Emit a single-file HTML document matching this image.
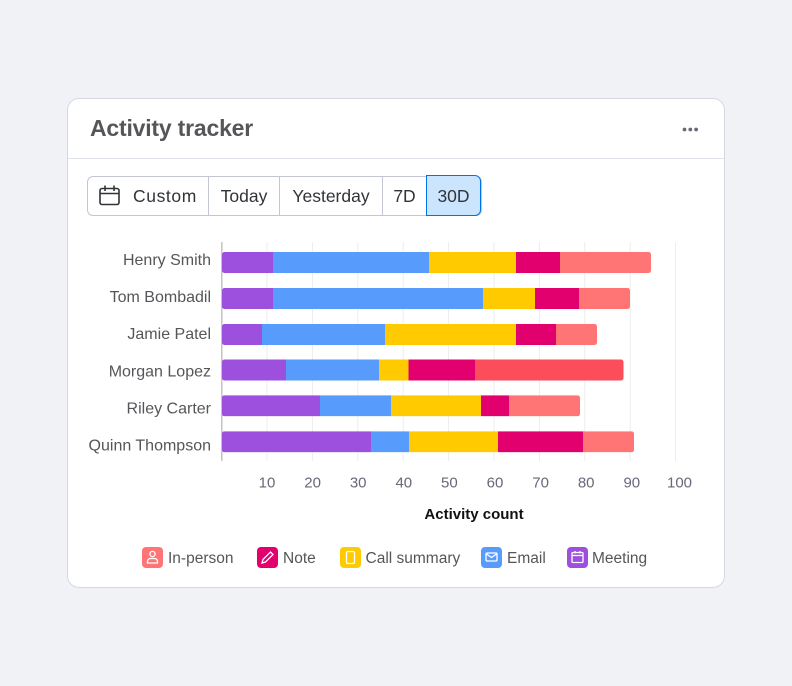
<!DOCTYPE html>
<html><head><meta charset="utf-8"><style>
html,body{margin:0;padding:0;}
body{width:792px;height:686px;background:#f1f2f5;position:relative;overflow:hidden;font-family:"Liberation Sans",sans-serif;}
.card{position:absolute;left:67px;top:98px;width:656px;height:488px;background:#fff;border:1px solid #d5d8e2;border-radius:12px;}
.title{position:absolute;left:90px;top:115px;font-size:23px;font-weight:bold;color:#555659;letter-spacing:-0.2px;}
.divider{position:absolute;left:68px;top:158px;width:656px;height:1px;background:#e0e3ea;}
.grp{position:absolute;left:87px;top:176px;width:393px;height:38px;border:1px solid #c3c6d4;border-radius:6px;}
.btn{position:absolute;top:176px;height:40px;line-height:40px;font-size:17.5px;color:#323338;text-align:center;}
.sep{position:absolute;top:177px;width:1px;height:38px;background:#c3c6d4;}
.sel{position:absolute;left:426px;top:175px;width:53px;height:39px;background:#cce5ff;border:1px solid #0073ea;border-radius:0 6px 6px 0;}
svg{position:absolute;left:0;top:0;}
.lab{font-family:"Liberation Sans",sans-serif;}
</style></head><body>
<div class="card"></div>
<div class="title">Activity tracker</div>
<div class="divider"></div>
<div class="grp"></div>
<div class="sel"></div>
<div class="sep" style="left:208px"></div>
<div class="sep" style="left:279px"></div>
<div class="sep" style="left:382px"></div>
<div class="btn" style="left:133px;width:70px;text-align:left;letter-spacing:0.6px">Custom</div>
<div class="btn" style="left:209px;width:70px">Today</div>
<div class="btn" style="left:280px;width:102px">Yesterday</div>
<div class="btn" style="left:383px;width:43px">7D</div>
<div class="btn" style="left:427px;width:53px">30D</div>
<svg width="792" height="686" viewBox="0 0 792 686">
  <!-- calendar icon -->
  <g fill="none" stroke="#323338" stroke-width="1.6">
    <rect x="100" y="188.5" width="19" height="16" rx="2"/>
    <line x1="100" y1="193.5" x2="119" y2="193.5"/>
    <line x1="105" y1="185.5" x2="105" y2="191"/>
    <line x1="114" y1="185.5" x2="114" y2="191"/>
  </g>
  <!-- dots -->
  <g fill="#676879"><circle cx="684.5" cy="129.5" r="1.9"/><circle cx="690.3" cy="129.5" r="1.9"/><circle cx="696.1" cy="129.5" r="1.9"/></g>
  <!-- grid -->
  <g stroke="#ededed" stroke-width="1">
    <line x1="266.9" y1="242" x2="266.9" y2="461"/>
    <line x1="312.4" y1="242" x2="312.4" y2="461"/>
    <line x1="357.8" y1="242" x2="357.8" y2="461"/>
    <line x1="403.2" y1="242" x2="403.2" y2="461"/>
    <line x1="448.6" y1="242" x2="448.6" y2="461"/>
    <line x1="494" y1="242" x2="494" y2="461"/>
    <line x1="539.4" y1="242" x2="539.4" y2="461"/>
    <line x1="584.8" y1="242" x2="584.8" y2="461"/>
    <line x1="630.2" y1="242" x2="630.2" y2="461"/>
    <line x1="675.6" y1="242" x2="675.6" y2="461"/>
  </g>
  <line x1="221.8" y1="242" x2="221.8" y2="461" stroke="#c4c4c4" stroke-width="1.5"/>
  <!-- bars -->
  <defs>
    <clipPath id="c1"><rect x="222" y="252" width="429" height="21" rx="2.5"/></clipPath>
    <clipPath id="c2"><rect x="222" y="288" width="408" height="21" rx="2.5"/></clipPath>
    <clipPath id="c3"><rect x="222" y="324" width="375" height="21" rx="2.5"/></clipPath>
    <clipPath id="c4"><rect x="222" y="359.5" width="401.5" height="21" rx="2.5"/></clipPath>
    <clipPath id="c5"><rect x="222" y="395.3" width="358" height="21" rx="2.5"/></clipPath>
    <clipPath id="c6"><rect x="222" y="431.3" width="412" height="21" rx="2.5"/></clipPath>
  </defs>
  <g clip-path="url(#c1)">
    <rect x="222" y="252" width="51" height="21" fill="#9d50dd"/>
    <rect x="273" y="252" width="156" height="21" fill="#579bfc"/>
    <rect x="429" y="252" width="87" height="21" fill="#ffcb00"/>
    <rect x="516" y="252" width="44" height="21" fill="#e2006f"/>
    <rect x="560" y="252" width="91" height="21" fill="#ff7575"/>
  </g>
  <g clip-path="url(#c2)">
    <rect x="222" y="288" width="51" height="21" fill="#9d50dd"/>
    <rect x="273" y="288" width="210" height="21" fill="#579bfc"/>
    <rect x="483" y="288" width="52" height="21" fill="#ffcb00"/>
    <rect x="535" y="288" width="44" height="21" fill="#e2006f"/>
    <rect x="579" y="288" width="51" height="21" fill="#ff7575"/>
  </g>
  <g clip-path="url(#c3)">
    <rect x="222" y="324" width="40" height="21" fill="#9d50dd"/>
    <rect x="262" y="324" width="123" height="21" fill="#579bfc"/>
    <rect x="385" y="324" width="131" height="21" fill="#ffcb00"/>
    <rect x="516" y="324" width="40" height="21" fill="#e2006f"/>
    <rect x="556" y="324" width="41" height="21" fill="#ff7575"/>
  </g>
  <g clip-path="url(#c4)">
    <rect x="222" y="359.5" width="64" height="21" fill="#9d50dd"/>
    <rect x="286" y="359.5" width="93" height="21" fill="#579bfc"/>
    <rect x="379" y="359.5" width="29.5" height="21" fill="#ffcb00"/>
    <rect x="408.5" y="359.5" width="66.5" height="21" fill="#e2006f"/>
    <rect x="475" y="359.5" width="148.5" height="21" fill="#fb4e5a"/>
  </g>
  <g clip-path="url(#c5)">
    <rect x="222" y="395.3" width="98" height="21" fill="#9d50dd"/>
    <rect x="320" y="395.3" width="71" height="21" fill="#579bfc"/>
    <rect x="391" y="395.3" width="90" height="21" fill="#ffcb00"/>
    <rect x="481" y="395.3" width="28" height="21" fill="#e2006f"/>
    <rect x="509" y="395.3" width="71" height="21" fill="#ff7575"/>
  </g>
  <g clip-path="url(#c6)">
    <rect x="222" y="431.3" width="149" height="21" fill="#9d50dd"/>
    <rect x="371" y="431.3" width="38" height="21" fill="#579bfc"/>
    <rect x="409" y="431.3" width="89" height="21" fill="#ffcb00"/>
    <rect x="498" y="431.3" width="85" height="21" fill="#e2006f"/>
    <rect x="583" y="431.3" width="51" height="21" fill="#ff7575"/>
  </g>
  <!-- y labels -->
  <g class="lab" font-size="16" fill="#555659" text-anchor="end">
    <text x="211" y="265">Henry Smith</text>
    <text x="211" y="302.1">Tom Bombadil</text>
    <text x="211" y="339.2">Jamie Patel</text>
    <text x="211" y="376.3">Morgan Lopez</text>
    <text x="211" y="413.4">Riley Carter</text>
    <text x="211" y="450.5">Quinn Thompson</text>
  </g>
  <!-- x ticks -->
  <g class="lab" font-size="15" fill="#676879" text-anchor="middle">
    <text x="267" y="487.5">10</text>
    <text x="312.6" y="487.5">20</text>
    <text x="358.2" y="487.5">30</text>
    <text x="403.8" y="487.5">40</text>
    <text x="449.4" y="487.5">50</text>
    <text x="495" y="487.5">60</text>
    <text x="540.6" y="487.5">70</text>
    <text x="586.2" y="487.5">80</text>
    <text x="631.8" y="487.5">90</text>
    <text x="679.5" y="487.5">100</text>
  </g>
  <text class="lab" x="474" y="519" font-size="15" font-weight="bold" fill="#111" text-anchor="middle">Activity count</text>
  <!-- legend -->
  <g>
    <rect x="142" y="547" width="21" height="21" rx="4" fill="#ff7575"/>
    <g fill="none" stroke="#fff" stroke-width="1.3"><circle cx="152.5" cy="554" r="2.6"/><path d="M147.5 563 v-1.5 a3 3 0 0 1 3 -3 h4 a3 3 0 0 1 3 3 v1.5 z"/></g>
    <rect x="257" y="547" width="21" height="21" rx="4" fill="#e2006f"/>
    <g fill="none" stroke="#fff" stroke-width="1.3"><path d="M262 563 l1 -3.5 l7.5 -7.5 l2.5 2.5 l-7.5 7.5 z"/></g>
    <rect x="340" y="547" width="21" height="21" rx="4" fill="#ffcb00"/>
    <g fill="none" stroke="#fff" stroke-width="1.3"><rect x="346.5" y="551.5" width="8" height="12" rx="1.5"/></g>
    <rect x="481" y="547" width="21" height="21" rx="4" fill="#579bfc"/>
    <g fill="none" stroke="#fff" stroke-width="1.3"><rect x="486" y="553" width="11" height="8" rx="1"/><path d="M486.5 554 l5 3.5 l5 -3.5"/></g>
    <rect x="567" y="547" width="21" height="21" rx="4" fill="#9d50dd"/>
    <g fill="none" stroke="#fff" stroke-width="1.3"><rect x="572" y="552.5" width="11" height="10" rx="1"/><line x1="572" y1="555.5" x2="583" y2="555.5"/><line x1="575" y1="551" x2="575" y2="553.5"/><line x1="580" y1="551" x2="580" y2="553.5"/></g>
  </g>
  <g class="lab" font-size="15.5" fill="#555659">
    <text x="168" y="563">In-person</text>
    <text x="283" y="563">Note</text>
    <text x="365.5" y="563">Call summary</text>
    <text x="507" y="563">Email</text>
    <text x="592" y="563">Meeting</text>
  </g>
</svg>
</body></html>
